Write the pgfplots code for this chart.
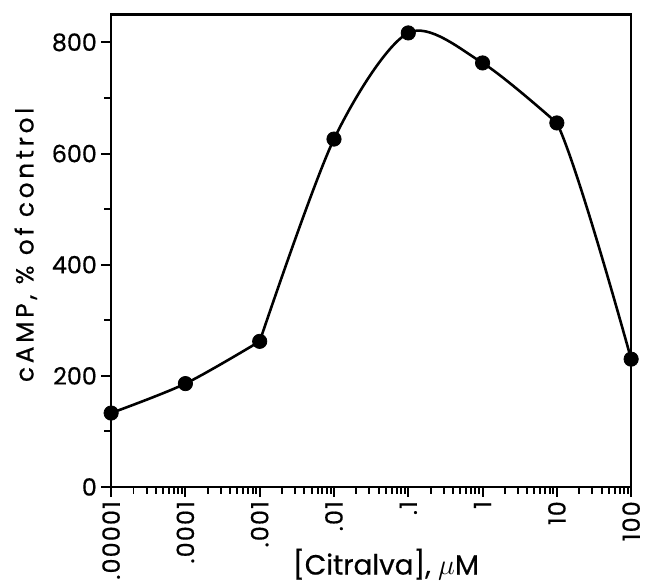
\documentclass[border=0pt]{standalone}
\usepackage{pgfplots}
\pgfplotsset{compat=1.18}
\usepackage{fontspec}
\setmainfont{Poppins}[UprightFeatures={FakeBold=0.6}]
\begin{document}
\begin{tikzpicture}
\begin{axis}[
  scale only axis,
  width=262pt, height=238pt,
  xmode=log,
  xmin=1e-5, xmax=100,
  ymin=0, ymax=850,
  clip=false,
  axis line style={line width=1.2pt},
  tick style={line width=1pt, black},
  tick align=outside,
  xtick pos=left, ytick pos=left,
  major tick length=5pt,
  minor tick length=3.5pt,
  ytick={0,200,400,600,800},
  minor ytick={100,300,500,700},
  xtick={1e-5,1e-4,1e-3,1e-2,1e-1,1,10,100},
  xticklabels={.00001,.0001,.001,.01,.1,1,10,100},
  minor xtick={2e-5,3e-5,4e-5,5e-5,6e-5,7e-5,8e-5,9e-5,
               2e-4,3e-4,4e-4,5e-4,6e-4,7e-4,8e-4,9e-4,
               2e-3,3e-3,4e-3,5e-3,6e-3,7e-3,8e-3,9e-3,
               2e-2,3e-2,4e-2,5e-2,6e-2,7e-2,8e-2,9e-2,
               0.2,0.3,0.4,0.5,0.6,0.7,0.8,0.9,
               2,3,4,5,6,7,8,9,
               20,30,40,50,60,70,80,90},
  /pgf/number format/assume math mode=true,
  xticklabel style={rotate=90, anchor=east, inner sep=2pt,
    font=\fontsize{12}{14}\selectfont\addfontfeatures{LetterSpace=5}},
  yticklabel style={font=\fontsize{12}{14}\selectfont, inner sep=2pt},
  xlabel={[Citralva], $\mu$M},
  ylabel={cAMP, \% of control},
  xlabel style={font=\fontsize{14}{16}\selectfont,
    at={(axis description cs:0.5,0)}, anchor=center, yshift=-39pt, xshift=7.5pt},
  ylabel style={font=\fontsize{12.5}{15}\selectfont\addfontfeatures{LetterSpace=15},
    at={(axis description cs:0,0.5)}, anchor=center, yshift=43pt, xshift=3pt},
]
% curve, drawn in pieces through the measured points
\addplot[black, line width=1.3pt, smooth, no markers]
  coordinates {(1e-5,133) (1e-4,186) (1e-3,262)};
\addplot[black, line width=1.3pt, smooth, no markers]
  coordinates {(1e-3,262) (1e-2,626) (1e-1,817) (1,763) (10,655)};
\begin{scope}
  \clip (axis cs:10,-50) rectangle (axis cs:200,900);
  \addplot[black, line width=1.3pt, smooth, no markers]
    coordinates {(1,763) (10,655) (100,230)};
\end{scope}
% data points
\addplot[only marks, mark=*, mark size=3.6pt, mark options={fill=black, draw=black}]
  coordinates {
    (1e-5,133) (1e-4,186) (1e-3,262) (1e-2,626)
    (1e-1,817) (1,763) (10,655) (100,230)
  };
\end{axis}
\pgfresetboundingbox
\useasboundingbox (-56pt,-50.15pt) rectangle (271pt,245.35pt);
\end{tikzpicture}
\end{document}
